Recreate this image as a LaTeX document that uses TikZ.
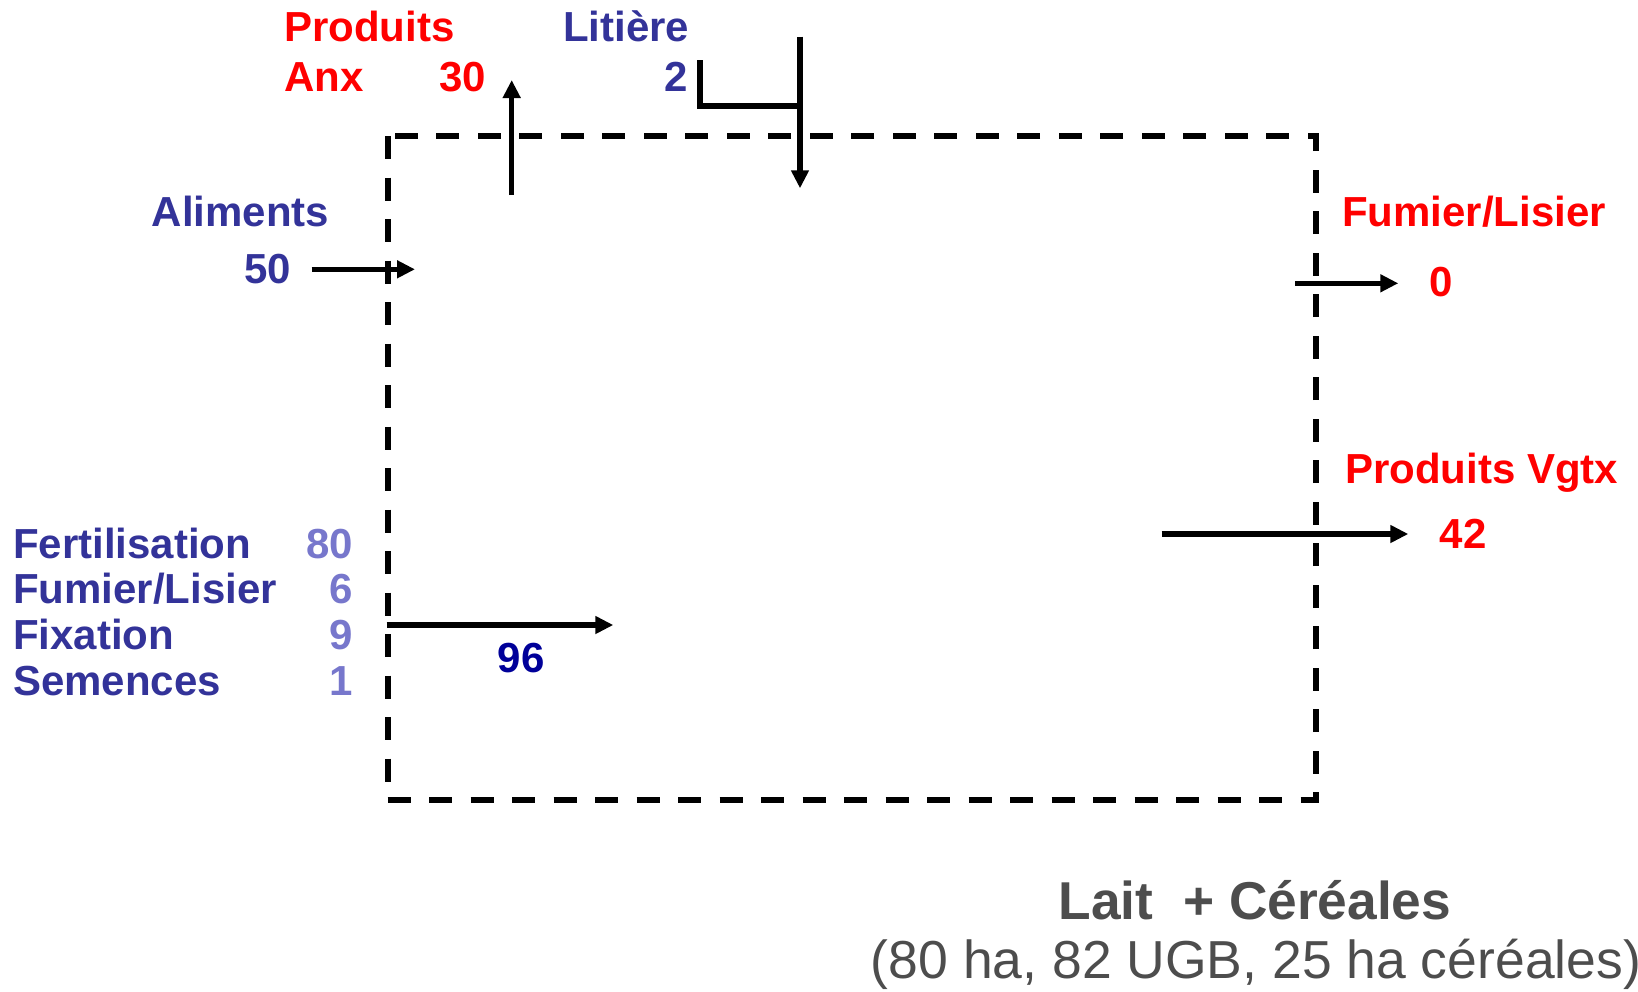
\documentclass[tikz,border=0pt]{standalone}
\usepackage{fontspec}
\setmainfont{Liberation Sans}
\usetikzlibrary{arrows.meta}

\definecolor{flowred}{RGB}{255,0,0}
\definecolor{flowblue}{RGB}{51,51,153}
\definecolor{flowlight}{RGB}{119,119,204}
\definecolor{flowdark}{RGB}{0,0,153}
\definecolor{captiongray}{RGB}{77,77,77}

\tikzset{
  lbl/.style={inner sep=0pt, font=\fontsize{42}{46}\selectfont\bfseries},
  lblw/.style={lbl, anchor=base west},
  lble/.style={lbl, anchor=base east},
  flow/.style={line width=5.5pt, -{Triangle[length=18pt,width=17pt]}},
  plain/.style={line width=5.5pt},
  boundary/.style={line width=6pt, dash pattern=on 23pt off 18.5pt},
}

\begin{document}
\begin{tikzpicture}[x=1pt, y=-1pt]
\useasboundingbox (0,0) rectangle (1638,991);

% system boundary
\draw[boundary] (387.5,136) rectangle (1315.5,800);

% products leaving: animal products
\node[lblw, text=flowred] (pa1) at (284,41.7) {Produits};
\node[lblw, text=flowred] (pa2) at (284,91.7) {Anx};
\node[lble, text=flowred] (pav) at (486,91.7) {30};
\coordinate (pa-s) at (511.7,195);
\coordinate (pa-e) at (511.7,80);
\draw[flow] (pa-s) -- (pa-e);

% litter coming in
\node[lblw, text=flowblue] (lit) at (563,41.7) {Litière};
\node[lble, text=flowblue] (litv) at (688,91.7) {2};
\coordinate (lit-a) at (700,60);
\coordinate (lit-b) at (800,106);
\draw[plain] (lit-a) |- (lit-b);
\coordinate (lit-s) at (800,36.7);
\coordinate (lit-e) at (800,188.3);
\draw[flow] (lit-s) -- (lit-e);

% feed coming in
\node[lblw, text=flowblue] (al) at (151.7,226.7) {Aliments};
\node[lble, text=flowblue] (alv) at (291.5,283.3) {50};
\coordinate (al-s) at (311.7,269.3);
\coordinate (al-e) at (415,269.3);
\draw[flow] (al-s) -- (al-e);

% manure leaving
\node[lblw, text=flowred] (fu) at (1342,226.7) {Fumier/Lisier};
\node[lblw, text=flowred] (fuv) at (1429,296.7) {0};
\coordinate (fu-s) at (1295,283.3);
\coordinate (fu-e) at (1398.3,283.3);
\draw[flow] (fu-s) -- (fu-e);

% crop products leaving
\node[lblw, text=flowred] (pv) at (1345,483.3) {Produits Vgtx};
\node[lblw, text=flowred] (pvv) at (1439.5,548.3) {42};
\coordinate (pv-s) at (1161.7,534);
\coordinate (pv-e) at (1408.3,534);
\draw[flow] (pv-s) -- (pv-e);

% soil inputs
\node[lblw, text=flowblue] (in1) at (13,558.3) {Fertilisation};
\node[lblw, text=flowblue] (in2) at (13,603.6) {Fumier/Lisier};
\node[lblw, text=flowblue] (in3) at (13,649.5) {Fixation};
\node[lblw, text=flowblue] (in4) at (13,695) {Semences};
\node[lble, text=flowlight] (iv1) at (353,558.3) {80};
\node[lble, text=flowlight] (iv2) at (353,603.6) {6};
\node[lble, text=flowlight] (iv3) at (353,649.5) {9};
\node[lble, text=flowlight] (iv4) at (353,695) {1};
\coordinate (in-s) at (386.7,625);
\coordinate (in-e) at (613.3,625);
\draw[flow] (in-s) -- (in-e);
\node[lblw, text=flowdark] (inv) at (497.5,672.3) {96};

% caption
\node[inner sep=0pt, anchor=base, text=captiongray,
      font=\fontsize{53.3}{58}\selectfont\bfseries] (cap1) at (1255,919) {Lait~~+ Céréales};
\node[inner sep=0pt, anchor=base, text=captiongray,
      font=\fontsize{53.5}{58}\selectfont] (cap2) at (1256,978) {(80 ha, 82 UGB, 25 ha céréales)};
\end{tikzpicture}
\end{document}
